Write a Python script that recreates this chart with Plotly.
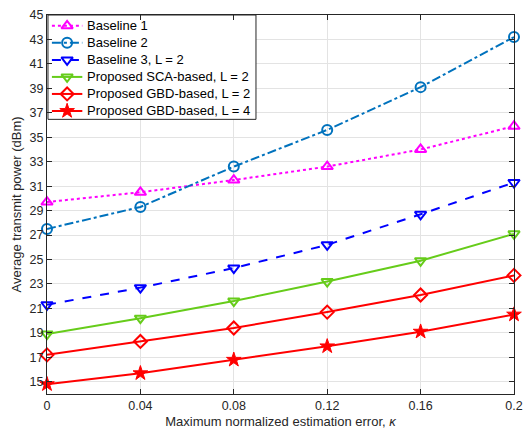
import plotly.graph_objects as go

kappa = [0, 0.04, 0.08, 0.12, 0.16, 0.2]
baseline1 = [29.7, 30.5, 31.5, 32.6, 34.0, 35.9]
baseline2 = [27.5, 29.3, 32.6, 35.6, 39.1, 43.2]
baseline3 = [21.3, 22.7, 24.3, 26.2, 28.7, 31.3]
sca_L2 = [18.9, 20.2, 21.6, 23.2, 24.9, 27.1]
gbd_L2 = [17.2, 18.3, 19.4, 20.7, 22.1, 23.7]
gbd_L4 = [14.8, 15.7, 16.8, 17.9, 19.1, 20.5]

x_ticks = [0, 0.04, 0.08, 0.12, 0.16, 0.2]
x_ticklabels = ["0", "0.04", "0.08", "0.12", "0.16", "0.2"]
y_ticks = list(range(15, 46, 2))

names = ["Baseline 1", "Baseline 2", "Baseline 3, L = 2",
         "Proposed SCA-based, L = 2", "Proposed GBD-based, L = 2",
         "Proposed GBD-based, L = 4"]
data = [baseline1, baseline2, baseline3, sca_L2, gbd_L2, gbd_L4]
colors = ["#ff00ff", "#0072bd", "#0000ff", "#66cc1a", "#ff0000", "#ff0000"]
dashes = ["dot", "dashdot", "dash", "solid", "solid", "solid"]
symbols = ["triangle-up-open", "circle-open", "triangle-down-open",
           "triangle-down-open", "diamond-open", "star"]

W, H = 531, 434
ML, MR, MT, MB = 47, 8, 11, 38
PW, PH = W - ML - MR, H - MT - MB
XR = [0, 0.2]
YR = [14, 45]

def px_to_x(px):
    return XR[0] + px / PW * (XR[1] - XR[0])

def px_to_y(py):
    return YR[1] - py / PH * (YR[1] - YR[0])

def marker_style(sym, color):
    if sym == "star":
        return dict(symbol=sym, size=11, color=color, line=dict(color=color, width=1))
    return dict(symbol=sym, size=10, color=color, line=dict(color=color, width=2))

fig = go.Figure()
for name, ys, color, dash, sym in zip(names, data, colors, dashes, symbols):
    fig.add_trace(go.Scatter(
        x=kappa, y=ys, name=name, mode="lines+markers",
        line=dict(color=color, width=2, dash=dash),
        marker=marker_style(sym, color),
        cliponaxis=False, showlegend=False,
    ))

# Custom legend laid out in pixel offsets inside the plot area
leg_x0, leg_x1, leg_y0, leg_y1 = 1, 213, 0, 106
row_h = 17.3
row0 = 11
line_x0, line_x1 = 5, 36
text_x = 39

shapes = [dict(type="rect", xref="x", yref="y",
               x0=px_to_x(leg_x0), x1=px_to_x(leg_x1),
               y0=px_to_y(leg_y0), y1=px_to_y(leg_y1), fillcolor="white",
               line=dict(color="#262626", width=1), layer="between")]
annotations = []
for i, (name, color, dash, sym) in enumerate(zip(names, colors, dashes, symbols)):
    yc = px_to_y(row0 + i * row_h)
    shapes.append(dict(type="line", xref="x", yref="y",
                       x0=px_to_x(line_x0), x1=px_to_x(line_x1),
                       y0=yc, y1=yc, line=dict(color=color, width=2, dash=dash),
                       layer="between"))
    fig.add_trace(go.Scatter(
        x=[px_to_x((line_x0 + line_x1) / 2)], y=[yc],
        mode="markers", marker=marker_style(sym, color),
        showlegend=False, hoverinfo="skip", cliponaxis=False,
    ))
    annotations.append(dict(x=px_to_x(text_x), y=yc, xref="x", yref="y", text=name,
                            showarrow=False, xanchor="left", yanchor="middle",
                            font=dict(size=13, color="black",
                                      family="Liberation Sans, Arial, sans-serif")))

axis_common = dict(
    showline=True, linecolor="#262626", linewidth=1, mirror="ticks",
    ticks="inside", ticklen=5, tickcolor="#262626",
    showgrid=True, gridcolor="#e3e3e3", gridwidth=1, zeroline=False,
    tickfont=dict(family="Liberation Sans, Arial, sans-serif", size=12.5, color="#262626"),
)

fig.update_layout(
    width=W, height=H,
    margin=dict(l=ML, r=MR, t=MT, b=MB),
    paper_bgcolor="white", plot_bgcolor="white",
    font=dict(family="Liberation Sans, Arial, sans-serif", size=12.5, color="#262626"),
    xaxis=dict(range=XR, tickvals=x_ticks, ticktext=x_ticklabels,
               title=dict(text="Maximum normalized estimation error, <i>κ</i>",
                          font=dict(size=13, color="#262626"), standoff=4),
               **axis_common),
    yaxis=dict(range=YR, tickvals=y_ticks,
               title=dict(text="Average transmit power (dBm)",
                          font=dict(size=13, color="#262626"), standoff=5),
               **axis_common),
    shapes=shapes,
    annotations=annotations,
    showlegend=False,
)

fig.write_html("out.html")
